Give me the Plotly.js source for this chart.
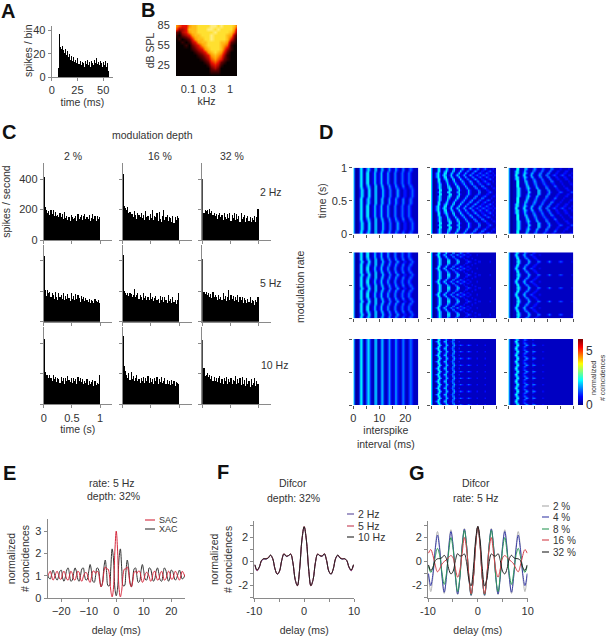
<!DOCTYPE html>
<html><head><meta charset="utf-8">
<script src="https://cdn.plot.ly/plotly-3.0.1.min.js"></script>
<style>html,body{margin:0;padding:0;background:#fff}</style></head>
<body><div id="chart" style="width:606px;height:640px"></div>
<script>
// ---------- Panel A: spikes per 1 ms bin, from 6 ms ----------
const histA = [8,37,26,24,27,23,21,24,19,22,17,20,15,18,14,17,13,15,12,16,11,14,10,13,12,9,14,11,15,10,13,9,14,12,10,15,12,16,11,13,10,14,12,9,13,10,14,9,12,5];
// ---------- Panel B: response area, rows 85..10 dB, digit = level ----------
const tuningDb = [85,80,75,70,65,60,55,50,45,40,35,30,25,20,15,10];
const tuningLogKhz = [-1.3,-1.22,-1.15,-1.07,-0.99,-0.91,-0.84,-0.76,-0.68,-0.6,-0.53,-0.45,-0.37,-0.29,-0.22,-0.14,-0.06,0.02,0.09,0.17];
const tuningRows = ["65446778888998988875","53347778889989888863","21346778888898888752","10234677888988887631","01012467788988887420","00101346778888776210","00010234678888765100","00000123467888753100","00000012346787642000","00000001234676531000","00000000123565421000","00000000012454210000","00000000001343100000","00000000000232000000","00000000000111000000","00000000000000000000"];
// ---------- Panel C: PSTH, 50 bins of 20 ms ----------
const psth2Hz2  = [410,215,200,175,190,165,195,170,195,160,185,155,165,150,175,150,170,140,185,145,160,130,150,125,165,150,135,145,160,125,170,140,150,165,130,155,170,135,150,140,165,125,145,170,135,155,125,160,135,150];
const psth2Hz16 = [430,220,210,195,215,180,185,170,170,150,190,165,140,180,165,150,175,145,165,130,190,150,155,130,170,145,195,130,160,150,175,125,185,140,120,160,195,130,150,165,125,150,145,120,155,110,150,130,155,145];
const psth2Hz32 = [400,175,195,190,200,170,205,175,190,165,175,155,170,140,165,175,150,165,130,180,150,135,170,145,175,125,165,145,180,130,170,140,155,120,175,135,150,165,120,145,155,125,150,115,145,130,155,120,150,205];
const psth5Hz2  = [430,205,170,205,185,195,160,190,175,150,195,165,145,185,160,175,150,190,140,170,150,180,155,135,185,150,170,140,180,150,175,155,130,170,150,165,135,155,145,130,150,125,145,135,125,150,135,130,140,125];
const psth5Hz16 = [435,200,190,175,185,170,190,180,165,175,215,165,175,185,150,175,160,140,185,155,170,145,165,140,185,150,165,135,155,170,140,150,125,170,145,165,130,160,140,120,175,135,150,125,160,130,140,115,145,190];
const psth5Hz32 = [410,195,180,195,175,190,165,180,155,195,160,175,165,140,175,150,165,140,185,150,170,135,165,205,145,175,150,170,135,165,145,175,130,160,140,165,125,155,140,120,150,130,160,120,145,135,110,140,130,165];
const psth10Hz2  = [430,210,195,190,170,190,175,155,195,165,180,145,175,165,140,180,150,170,135,175,150,185,160,145,170,140,175,150,165,135,180,155,170,145,165,135,150,140,165,125,150,130,145,160,120,150,125,140,135,195];
const psth10Hz16 = [445,250,220,190,170,205,160,210,165,185,150,170,195,150,165,140,175,150,180,140,170,150,185,140,170,145,165,135,175,150,180,135,165,145,180,140,150,170,130,160,135,155,125,160,135,150,120,145,140,130];
const psth10Hz32 = [420,240,185,190,205,180,195,165,185,150,180,155,175,145,170,185,140,165,135,175,150,180,135,165,145,175,130,160,150,185,130,165,140,170,125,180,135,160,120,175,130,150,115,165,125,140,170,120,150,135];
// ---------- Panel D: one modulation cycle of each image; 41 columns, 0..25 ms; digit indexes isiLevels ----------
const isiLevels=[0.1,0.35,0.85,1.4,1.8,2.1,2.2,2.3,2.4,2.5];
const d2R="5001373115 5114411252 1133112421 1221123211 1", d2M="5001661036 3114411441 1242124211 3311232111 1", d2L="5001661055 1125212521 2421133112 3212321111 1";
const d16R="5001373111 5511114411 1124211113 3111123211 1", d16A="5001166111 1551112521 1124211123 2111221111 2", d16Q="5001373111 3631114411 1242111331 1123211122 1", d16B="5001363111 4411125211 2421113311 1331111211 1", d16M="5001363112 5211252112 4211242112 3211232111 2", d16C="5001551114 4112521124 2112421133 1123211121 1", d16N="5001661136 3114411252 1133112421 1221123211 2", d16D="5013731155 1144112521 2421133112 3212321121 1", d16L="5013731363 1252125212 4212421232 1232122212 2";
const d32R="5001148411 1155111144 1111242111 1232111123 2", d32A="5001148411 1252111144 1111331111 2211112211 1", d32Q="5001148411 1363111441 1113311112 2111122111 1", d32B="5001177111 1441112421 1123211133 1111211111 2", d32M="5001177111 2521113311 1232111221 1112111122 1", d32C="5001177111 4411124211 2321113311 1121111211 1", d32N="5001484112 5211133111 3311133111 2211122111 1", d32D="5001484113 6311441113 3111331112 2111221112 1", d32L="5001771115 5112521124 2113311232 1123211221 1";
const h5d16R="5001373111 5511114411 1123211112 2111112111 1", h5d16Q="5001373111 4411124211 1221111211 1111111111 1", h5d16M="5001363112 4211232111 2111121111 1111111111 1", h5d16N="5001661125 2113311232 1122111111 1111111111 1", h5d16L="5013731252 1242124212 3211211121 1111111111 1";
const h5d32R="5001148411 1144111133 1111242111 1232111112 1", h5d32Q="5001137311 1242111221 1111111111 1111111111 1", h5d32M="5001166111 2421112211 1111111111 1111111111 1", h5d32N="5001373112 4211122111 1111111111 1111111111 1", h5d32L="5001661114 4112321112 1111111111 1111111111 1";
const h10d16R="5001373114 4112421232 1123211121 1112111111 1", h10d16M="5001551124 2113311111 1111111111 1111111111 1", h10d16L="5013731144 1123211211 1111111111 1111111111 1";
const h10d32R="5001166111 2421133111 1211111111 1111111111 1", h10d32M="5001363112 3211121111 1111111111 1111111111 1", h10d32L="5001771112 2111111111 1111111111 1111111111 1";
// ---------- Panel E ----------
const sac = [0.95,1.1,1.2,1.0,0.8,0.9,1.1,1.2,1.05,0.85,0.85,1.1,1.2,1.05,0.85,0.8,1.0,1.2,1.1,0.85,0.8,1.0,1.2,1.15,0.85,0.75,0.95,1.1,1.15,1.05,0.8,0.7,0.95,1.2,1.2,1.1,1.2,1.15,0.75,0.5,0.65,1.15,1.4,1.3,1.3,1.05,0.35,0.05,0.45,2.1,3.0,2.1,0.45,0.05,0.35,1.05,1.3,1.3,1.4,1.15,0.65,0.5,0.75,1.15,1.2,1.1,1.2,1.2,0.95,0.7,0.8,1.05,1.15,1.1,0.95,0.75,0.85,1.15,1.2,1.0,0.8,0.85,1.1,1.2,1.0,0.8,0.85,1.05,1.2,1.1,0.85,0.85,1.05,1.2,1.1,0.9,0.8,1.0,1.2,1.1,0.95];
const xac = [1.05,0.9,0.85,1.05,1.25,1.1,0.9,0.8,0.95,1.2,1.25,0.9,0.75,0.95,1.25,1.35,1.05,0.75,0.8,1.1,1.35,1.2,0.85,0.75,1.0,1.3,1.35,1.0,0.8,0.85,1.2,1.5,1.2,0.75,0.7,1.0,1.35,1.3,0.85,0.5,0.7,1.35,1.7,1.15,0.55,0.55,1.3,2.2,1.75,0.45,0.10,0.45,1.75,2.2,1.3,0.55,0.55,1.15,1.7,1.35,0.7,0.5,0.85,1.3,1.35,1.0,0.7,0.75,1.2,1.5,1.2,0.85,0.8,1.0,1.35,1.3,1.0,0.75,0.85,1.2,1.35,1.1,0.8,0.75,1.05,1.35,1.25,0.95,0.75,0.9,1.25,1.2,0.95,0.8,0.9,1.1,1.25,1.05,0.85,0.9,1.05];
// ---------- Panels F and G: 45 points, every 0.45 ms from -9.9 to 9.9 ----------
const dif2Hz  = [-0.3,-0.78,-0.5,0.05,0.2,0.2,0.3,0.5,0.22,-0.62,-1.05,-0.82,0.08,0.62,0.42,0.48,0.6,-0.12,-1.5,-2.0,-0.62,1.78,2.88,1.78,-0.62,-2.0,-1.5,-0.12,0.6,0.48,0.43,0.62,0.08,-0.82,-1.05,-0.62,0.22,0.5,0.28,0.2,0.22,0.06,-0.5,-0.78,-0.3];
const dif5Hz  = [-0.28,-0.74,-0.48,0.08,0.23,0.25,0.32,0.52,0.24,-0.6,-1.03,-0.8,0.1,0.66,0.46,0.5,0.63,-0.1,-1.48,-2.02,-0.6,1.8,2.92,1.8,-0.6,-2.02,-1.48,-0.1,0.63,0.5,0.46,0.66,0.1,-0.8,-1.03,-0.6,0.24,0.52,0.32,0.25,0.23,0.08,-0.48,-0.74,-0.28];
const dif10Hz = [-0.25,-0.7,-0.45,0.1,0.25,0.22,0.3,0.55,0.25,-0.6,-1.05,-0.8,0.1,0.65,0.45,0.5,0.62,-0.1,-1.5,-2.0,-0.6,1.8,2.9,1.8,-0.6,-2.0,-1.5,-0.1,0.62,0.5,0.45,0.65,0.1,-0.8,-1.05,-0.6,0.25,0.55,0.3,0.22,0.25,0.1,-0.45,-0.7,-0.25];
const difD2  = [-1.15,-2.5,-1.25,1.15,2.5,1.2,-1.25,-2.65,-1.3,1.2,2.65,1.25,-1.3,-2.75,-1.35,1.3,2.75,1.3,-1.35,-2.85,-1.4,1.4,2.9,1.4,-1.4,-2.85,-1.35,1.3,2.75,1.3,-1.35,-2.75,-1.3,1.25,2.65,1.2,-1.3,-2.65,-1.25,1.2,2.5,1.15,-1.25,-2.5,-1.15];
const difD4  = [-1.0,-2.0,-1.0,1.0,2.2,1.0,-1.2,-2.55,-1.3,1.1,2.5,1.25,-1.25,-2.7,-1.3,1.3,2.7,1.3,-1.35,-2.8,-1.4,1.4,2.9,1.4,-1.4,-2.8,-1.35,1.3,2.7,1.3,-1.3,-2.7,-1.25,1.25,2.5,1.1,-1.3,-2.55,-1.2,1.0,2.2,1.0,-1.0,-2.0,-1.0];
const difD8  = [-0.4,-0.9,-0.5,0.4,1.1,0.5,-0.9,-1.9,-1.0,0.8,2.0,1.0,-1.1,-2.5,-1.3,1.2,2.6,1.3,-1.3,-2.75,-1.4,1.4,2.9,1.4,-1.4,-2.75,-1.3,1.3,2.6,1.2,-1.3,-2.5,-1.1,1.0,2.0,0.8,-1.0,-1.9,-0.9,0.5,1.1,0.4,-0.5,-0.9,-0.4];
const difD16 = [0.7,1.0,0.5,-0.3,-0.85,-0.6,-0.2,0.0,0.15,0.35,0.5,0.3,-0.6,-1.3,-0.7,0.7,2.0,1.0,-1.2,-2.7,-1.4,1.3,2.9,1.3,-1.4,-2.7,-1.2,1.0,2.0,0.7,-0.7,-1.3,-0.6,0.3,0.5,0.35,0.15,0.0,-0.2,-0.6,-0.85,-0.3,0.5,1.0,0.7];
const difD32 = dif5Hz;

// ---------- plumbing ----------
const W=606,H=640,FONT='"Liberation Sans",Arial,sans-serif',INK='#333',GREY='#8a8a8a',TS=10.5;
const layout={width:W,height:H,margin:{l:0,r:0,t:0,b:0},paper_bgcolor:'#fff',plot_bgcolor:'rgba(0,0,0,0)',showlegend:false,barmode:'overlay',bargap:0,
  font:{family:FONT,size:11,color:INK},annotations:[],shapes:[],
  coloraxis:{cmin:0,cmax:6.1,colorscale:[[0,'#00008f'],[0.125,'#0000ff'],[0.375,'#00ffff'],[0.625,'#ffff00'],[0.875,'#ff0000'],[1,'#800000']],
    colorbar:{x:578.3/W,xanchor:'left',y:1-405/H,yanchor:'bottom',len:66/H,lenmode:'fraction',thickness:5,thicknessmode:'pixels',xpad:0,ypad:0,outlinewidth:0,tickvals:[0,5],ticktext:['0','5'],ticks:'',tickfont:{size:12,color:INK,family:FONT}}}};
const traces=[];let n=0;
const axBase={showgrid:false,zeroline:false,showline:true,linecolor:GREY,linewidth:1,ticks:'outside',tickcolor:GREY,ticklen:3,tickwidth:1,automargin:false,fixedrange:true,tickfont:{size:11,color:INK}};
function panel(L,R,T,B,xa,ya){n++;const s=n===1?'':n;
  layout['xaxis'+s]=Object.assign({},axBase,{domain:[L/W,R/W],anchor:'y'+s},xa);
  layout['yaxis'+s]=Object.assign({},axBase,{domain:[1-B/H,1-T/H],anchor:'x'+s},ya);
  return {xaxis:'x'+s,yaxis:'y'+s};}
function note(x,y,text,o){layout.annotations.push(Object.assign({xref:'paper',yref:'paper',x:x/W,y:1-y/H,text:text,showarrow:false,xanchor:'center',yanchor:'middle',font:{size:TS,color:INK}},o||{}));}
function legendRow(x0,x1,y,color,label,size){layout.shapes.push({type:'line',xref:'paper',yref:'paper',x0:x0/W,x1:x1/W,y0:1-y/H,y1:1-y/H,line:{color:color,width:1.1}});
  note(x1+2,y,label,{xanchor:'left',font:{size:size,color:INK}});}
function ttl(text,standoff){return {text:text,standoff:standoff,font:{size:TS,color:INK}};}

// Panel letters
[['A',8,11],['B',148,10],['C',9,132],['D',326,132],['E',10,473],['F',223,472],['G',417,473]].forEach(p=>note(p[1],p[2],p[0],{font:{family:FONT,size:20,color:'#111',weight:700}}));

// A
traces.push(Object.assign({type:'bar',x:histA.map((_,i)=>6.5+i),y:histA,width:1,marker:{color:'#000',line:{width:0}},name:'A'},
  panel(51.7,113,26,77,{range:[0,59.5],tickvals:[0,25,50],title:ttl('time (ms)',2)},{range:[0,43.8],tickvals:[0,20,40]})));
note(28,51,'spikes / bin',{textangle:-90});
// B
const tuningZ=tuningRows.map(r=>r.split('').map(Number));
traces.push(Object.assign({type:'heatmap',x:tuningLogKhz,y:tuningDb,z:tuningZ,zsmooth:'best',zmin:0,zmax:10,showscale:false,colorscale:[[0,'#060000'],[0.2,'#6a0000'],[0.4,'#e81000'],[0.6,'#ff9a00'],[0.8,'#ffe030'],[1,'#fffad0']],name:'B'},
  panel(176,237,25,76,{range:[-1.3,0.17],tickvals:[-1,-0.523,0],ticktext:['0.1','0.3','1'],showline:false,ticklen:3,tickcolor:'rgba(0,0,0,0)',title:ttl('kHz',0)},
    {range:[8.5,85.8],tickvals:[25,55,85],showline:false,tickcolor:'rgba(0,0,0,0)',title:ttl('dB SPL',0)})));
// C
const psthCols=[[43.7,111.7],[122.7,191.7],[202.3,270.7]];
const psthRows=[[163,240],[245,321.7],[326.7,404.3]];
const psth=[[psth2Hz2,psth2Hz16,psth2Hz32],[psth5Hz2,psth5Hz16,psth5Hz32],[psth10Hz2,psth10Hz16,psth10Hz32]];
psth.forEach((row,r)=>row.forEach((vals,c)=>{
  const [L,R]=psthCols[c],[T,B]=psthRows[r];
  const xa={range:[0,(R-L)/56.3],tickvals:[0,0.5,1],showticklabels:r===2&&c===0,ticktext:['0','0.5','1']};
  if(r===2&&c===0) xa.title=ttl('time (s)',3);
  const ya={range:[0,(B-T)/0.1525],tickvals:[0,200,400],showticklabels:r===0&&c===0};
  if(r===0&&c===0) ya.title=ttl('spikes / second',9);
  traces.push(Object.assign({type:'bar',x:vals.map((_,i)=>0.01+0.02*i),y:vals,width:0.02,marker:{color:'#000',line:{width:0}},name:'PSTH'},panel(L,R,T,B,xa,ya)));
}));
note(152,135,'modulation depth');note(73,156,'2 %');note(160,156,'16 %');note(232,156,'32 %');
note(271,192,'2 Hz');note(271,283,'5 Hz');note(274,365,'10 Hz');
// D
const dCols=[[353.3,418.3],[431,496],[508.3,573.3]];
const dRows=[[167.7,234],[252.3,318.3],[339,405]];
const cycle2a=[d2M,d2R,d2R,d2R,d2M,d2L,d2L,d2L,d2L,d2M];
const cycle2b=[d16M,d16B,d16Q,d16A,d16R,d16A,d16Q,d16B,d16M,d16C,d16N,d16D,d16L,d16D,d16N,d16C];
const cycle2c=[d32M,d32B,d32Q,d32A,d32R,d32A,d32Q,d32B,d32M,d32C,d32N,d32D,d32L,d32D,d32N,d32C];
const imgs=[[[cycle2a,2],[cycle2b,2],[cycle2c,2]],
 [[[d2M,d2R,d2M,d2L,d2L],5],[[h5d16M,h5d16Q,h5d16R,h5d16Q,h5d16M,h5d16N,h5d16L,h5d16N],5],[[h5d32M,h5d32Q,h5d32R,h5d32Q,h5d32M,h5d32N,h5d32L,h5d32N],5]],
 [[[d2M],10],[[h10d16R,h10d16M,h10d16L,h10d16M],10],[[h10d32R,h10d32M,h10d32L,h10d32M],10]]];
const isiMs=Array.from({length:41},(_,j)=>j*0.625);
imgs.forEach((row,r)=>row.forEach((img,c)=>{
  let rows=[];for(let k=0;k<img[1];k++)rows=rows.concat(img[0]);
  const z=rows.map(s=>s.replace(/ /g,'').split('').map(ch=>isiLevels[Number(ch)]));
  const y=rows.map((_,i)=>(i+0.5)/rows.length);
  const [L,R]=dCols[c],[T,B]=dRows[r];
  const lab=r===2&&c===0, yl=r===0&&c===0;
  const xa={range:[0,25],tickvals:[0,5,10,15,20,25],ticktext:['0','','10','','20',''],showticklabels:lab,showline:false,tickcolor:'#555'};
  if(lab) xa.title=ttl('interspike<br>interval (ms)',3);
  const ya={range:[0,1],tickvals:[0,0.5,1],showticklabels:yl,showline:false,tickcolor:'#555'};
  if(yl) ya.title=ttl('time (s)',3);
  traces.push(Object.assign({type:'heatmap',x:isiMs,y:y,z:z,zsmooth:'best',coloraxis:'coloraxis',name:'D'},panel(L,R,T,B,xa,ya)));
}));
note(300,287,'modulation rate',{textangle:-90});
note(593,378,'normalized',{textangle:-90,font:{size:7,color:INK}});
note(602,378,'# coincidences',{textangle:-90,font:{size:7,color:INK}});
// E
const delayE=Array.from({length:101},(_,i)=>-25+i*0.5);
const axE=panel(47.5,185,519,598,{range:[-25,25],tickvals:[-20,-10,0,10,20],title:ttl('delay (ms)',10)},{range:[0,3.54],tickvals:[0,1,2,3],title:ttl('normalized<br># concidences',3)});
traces.push(Object.assign({type:'scatter',mode:'lines',x:delayE,y:xac,name:'XAC',line:{color:'#333',width:1,shape:'spline'}},axE));
traces.push(Object.assign({type:'scatter',mode:'lines',x:delayE,y:sac,name:'SAC',line:{color:'#d4283c',width:1,shape:'spline'}},axE));
legendRow(145,155,520,'#d4283c','SAC',9);legendRow(145,155,529,'#333','XAC',9);
note(112,483,'rate: 5 Hz');note(113,496,'depth: 32%');
// F
const delayFG=Array.from({length:45},(_,i)=>-9.9+i*0.45);
const yDif={range:[-3.03,3.4],tickvals:[-3,-2,-1,0,1,2,3],ticktext:['','-2','','0','','2',''],title:ttl('normalized<br># concidences',3)};
const xDif={range:[-10,10],tickvals:[-10,-5,0,5,10],ticktext:['-10','','0','','10'],title:ttl('delay (ms)',10)};
const axF=panel(254.3,354,520.7,598,xDif,yDif);
[['2 Hz',dif2Hz,'#5a4a9c'],['5 Hz',dif5Hz,'#c43a50'],['10 Hz',dif10Hz,'#222']].forEach(s=>traces.push(Object.assign({type:'scatter',mode:'lines',x:delayFG,y:s[1],name:s[0],line:{color:s[2],width:1,shape:'spline'}},axF)));
legendRow(347,354,514,'#5a4a9c','2 Hz',10.5);legendRow(347,354,526,'#c43a50','5 Hz',10.5);legendRow(347,354,537,'#222','10 Hz',10.5);
note(293,483,'Difcor');note(293,498,'depth: 32%');
// G
const axG=panel(428,527.7,520.7,598,xDif,Object.assign({},yDif,{title:undefined}));
[['2 %',difD2,'#b5b5b5'],['4 %',difD4,'#3b3fa8'],['8 %',difD8,'#2e9a5a'],['16 %',difD16,'#d4404a'],['32 %',difD32,'#222']].forEach(s=>traces.push(Object.assign({type:'scatter',mode:'lines',x:delayFG,y:s[1],name:s[0],line:{color:s[2],width:1,shape:'spline'}},axG)));
[['2 %',506,'#aaa'],['4 %',517,'#3b3fa8'],['8 %',529,'#2e9a5a'],['16 %',540,'#d4404a'],['32 %',552,'#222']].forEach(s=>legendRow(542,549,s[1],s[2],s[0],10));
note(476,483,'Difcor');note(476,498,'rate: 5 Hz');

Plotly.newPlot('chart',traces,layout,{displayModeBar:false,staticPlot:true});
</script></body></html>
